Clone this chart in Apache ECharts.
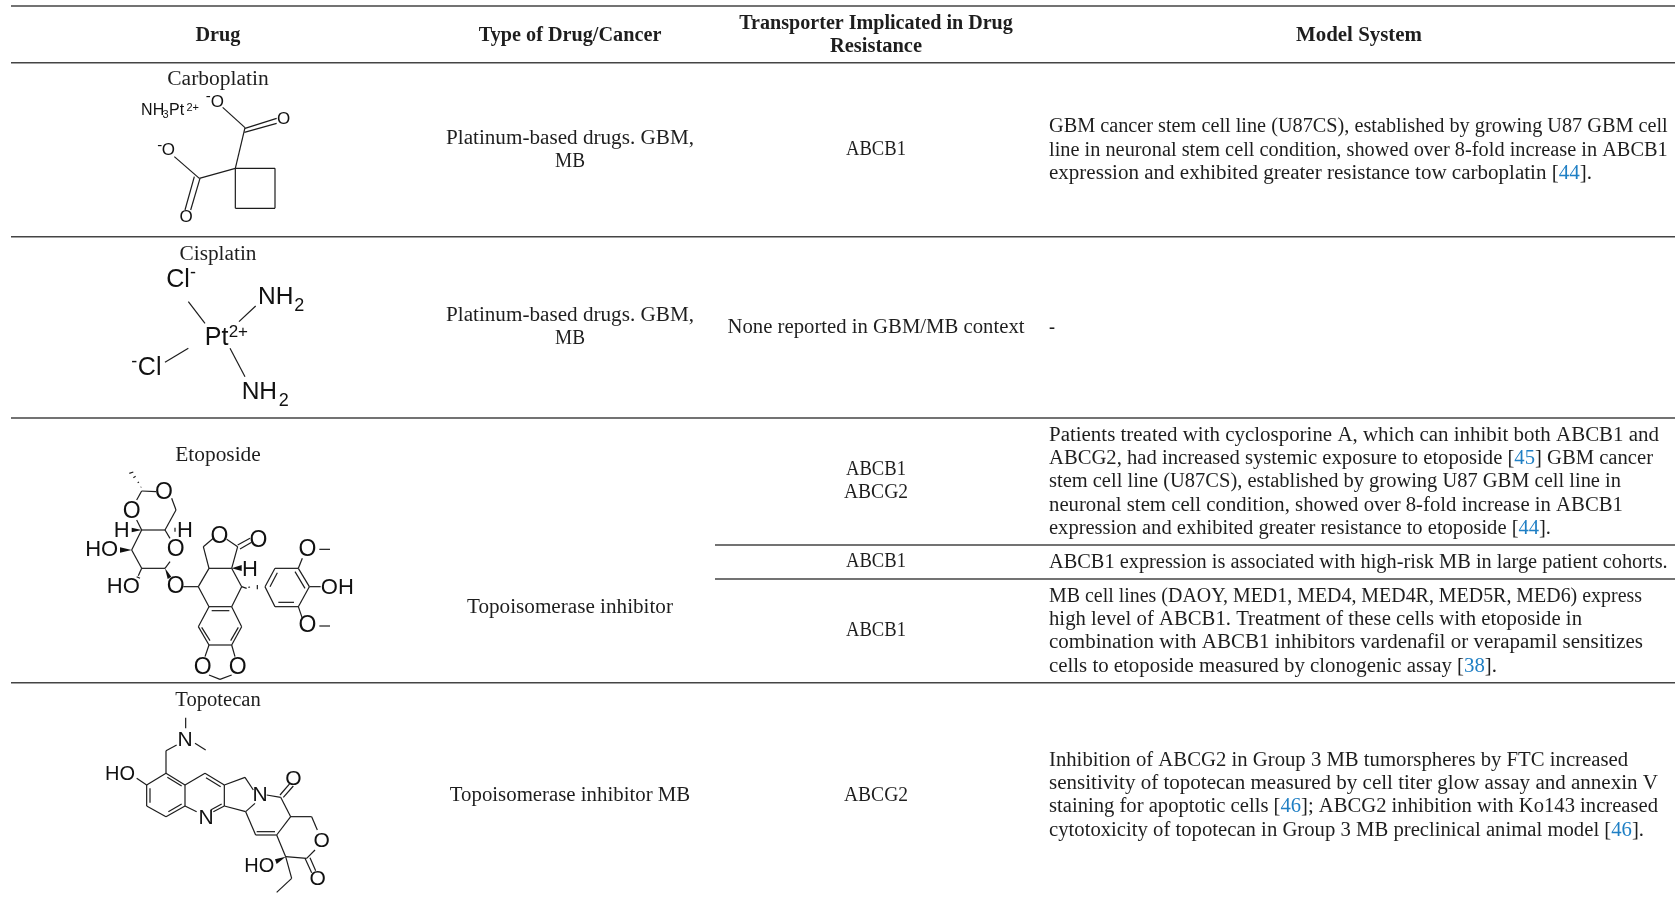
<!DOCTYPE html>
<html><head><meta charset="utf-8">
<style>html,body{margin:0;padding:0;background:#fff}#c{width:1675px;height:902px}</style>
<script src="https://cdn.jsdelivr.net/npm/echarts@6/dist/echarts.min.js"></script>
</head><body><div id="c"></div>
<script>
// ---- table content ----
const headers = ['Drug','Type of Drug/Cancer','Transporter Implicated in Drug','Resistance','Model System'];
const drugs = ['Carboplatin','Cisplatin','Etoposide','Topotecan'];
const drugTypes = ['Platinum-based drugs. GBM,','MB','Platinum-based drugs. GBM,','MB','Topoisomerase inhibitor','Topoisomerase inhibitor MB'];
const transporters = ['ABCB1','None reported in GBM/MB context','ABCB1','ABCG2','ABCB1','ABCB1','ABCG2'];
const modelLines = [
 'GBM cancer stem cell line (U87CS), established by growing U87 GBM cell',
 'line in neuronal stem cell condition, showed over 8-fold increase in ABCB1',
 'expression and exhibited greater resistance tow carboplatin [{r|44}].',
 '-',
 'Patients treated with cyclosporine A, which can inhibit both ABCB1 and',
 'ABCG2, had increased systemic exposure to etoposide [{r|45}] GBM cancer',
 'stem cell line (U87CS), established by growing U87 GBM cell line in',
 'neuronal stem cell condition, showed over 8-fold increase in ABCB1',
 'expression and exhibited greater resistance to etoposide [{r|44}].',
 'ABCB1 expression is associated with high-risk MB in large patient cohorts.',
 'MB cell lines (DAOY, MED1, MED4, MED4R, MED5R, MED6) express',
 'high level of ABCB1. Treatment of these cells with etoposide in',
 'combination with ABCB1 inhibitors vardenafil or verapamil sensitizes',
 'cells to etoposide measured by clonogenic assay [{r|38}].',
 'Inhibition of ABCG2 in Group 3 MB tumorspheres by FTC increased',
 'sensitivity of topotecan measured by cell titer glow assay and annexin V',
 'staining for apoptotic cells [{r|46}]; ABCG2 inhibition with Ko143 increased',
 'cytotoxicity of topotecan in Group 3 MB preclinical animal model [{r|46}].'
];
// ---- table layout ----
const SERIF='"Liberation Serif",serif', SANS='"Liberation Sans",Arial,sans-serif';
const INK='#1e1e1e', BLUE='#1f7fc4', RULE='#444444';
const colX=[218,570,876,1359], modelX=1049, innerRuleX=715;
const fullRules=[6,62.7,236.7,418,682.7], innerRules=[545,579];
const headerPos=[[0,36],[1,36],[2,24],[2,47],[3,36]];
const headerW=[45,182.7,273.6,92,126];
const drugY=[80.2,254.6,455.6,700.6];
const drugW=[101.5,77,85.5,85.5];
const typeY=[138.7,162.2,315.7,339.2,607.7,795.7];
const typeW=[248,30,248,30,206,240.4];
const transporterY=[150.2,327.7,469.7,493.2,562.2,631.2,795.7];
const transporterW=[60,297,60,64,60,60,64];
const modelY=[127.2,150.5,173.7,327.7,435.7,459.2,482.2,505.7,528.7,562.7,596.7,620.2,643.2,666.7,760.7,783.7,807.2,830.7];
const modelW=[618.7,618.7,543,6,610,604,572,574,502,618.7,593,533,594,448,579,609,609,595];
const FS=20;
const measure=document.createElement('canvas').getContext('2d');
function plain(s){return s.replace(/\{r\|([^}]*)\}/g,'$1');}
function fit(s,w,bold){measure.font=(bold?'bold ':'')+FS+'px "Liberation Serif"';return w/measure.measureText(plain(s)).width;}
const textItems=[];
headerPos.forEach((h,i)=>textItems.push({x:colX[h[0]],y:h[1],text:headers[i],align:'center',bold:true,sx:fit(headers[i],headerW[i],true)}));
drugs.forEach((d,i)=>textItems.push({x:colX[0],y:drugY[i],text:d,align:'center',sx:fit(d,drugW[i])}));
drugTypes.forEach((d,i)=>textItems.push({x:colX[1],y:typeY[i],text:d,align:'center',sx:fit(d,typeW[i])}));
transporters.forEach((d,i)=>textItems.push({x:colX[2],y:transporterY[i],text:d,align:'center',sx:fit(d,transporterW[i])}));
modelLines.forEach((d,i)=>textItems.push({x:modelX,y:modelY[i],text:d,align:'left',sx:fit(d,modelW[i])}));

// ---- molecule drawings (units: 1/3 px, each with its own origin) ----
const carboOrigin=[0,0];
const carboBonds=[[668,322,735,383],[735,383,706,505],[735,385,830,355],[733,397,830,370],[706,505,598,535],[598,535,523,470],[583,530,555,630],[600,535,572,630],[706,505,825,505],[825,505,825,625],[825,625,706,625],[706,625,706,505]];
const carboLabels=[['NH',458,333,16],['3',497,346,11],['Pt',530,333,16],['2+',578,325,11],['-',625,292,15],['O',652,307,17],['O',851,358,17],['-',479,437,15],['O',505,452,17],['O',558,653,17]];
const cisOrigin=[100,240];
const cisBonds=[[265,185,315,250],[467,198,417,245],[265,325,195,367],[390,325,435,410]];
const cisLabels=[['Cl',234,120,25],['-',279,100,18],['NH',527,173,24.5],['2',598,198,18],['Pt',350,293,25],['2+',415,278,17],['-',103,365,18],['Cl',149,383,25],['NH',478,458,24.5],['2',551,483,18]];
const etoOrigin=[70,430];
const etoBonds=[[178,130,190,126],[190,143,197,139],[203,158,207,156],[212,172,214,171],[215,183,258,185],[215,183,200,210],[305,205,318,240],[318,240,285,300],[285,300,215,300],[215,300,200,270],[285,300,300,325],[300,395,285,415],[285,415,215,415],[215,415,185,360],[185,360,215,300],[315,293,315,305],[200,440,210,445],[215,415,205,437],[340,470,385,470],[385,470,417,415],[417,415,485,415],[485,415,515,470],[515,470,485,530],[485,530,417,530],[417,530,385,470],[425,542,478,542],[417,415,400,350],[400,350,430,325],[470,328,503,350],[503,350,485,415],[503,345,540,325],[510,357,545,337],[417,530,385,590],[385,590,417,645],[417,645,485,645],[485,645,515,590],[515,590,485,530],[395,592,420,632],[505,592,482,632],[417,645,405,680],[485,645,495,680],[417,735,450,748],[450,748,485,735],[515,470,530,475],[535,472,540,471],[562,465,562,478],[585,470,615,415],[615,415,685,415],[685,415,718,470],[718,470,685,530],[685,530,615,530],[615,530,585,470],[600,470,622,428],[675,425,705,475],[625,517,672,517],[685,415,697,385],[748,358,780,358],[718,470,752,470],[685,530,697,565],[748,588,780,588]];
const etoWedges=[[[215,300],[185,293],[185,307]],[[185,360],[150,352],[150,368]],[[285,415],[293,447],[304,440]],[[485,415],[515,405],[515,423]]];
const etoLabels=[['O',282,187,23],['O',185,245,23],['H',155,302,22],['H',345,302,22],['O',317,360,23],['HO',95,360,22],['HO',160,472,22],['O',317,470,23],['O',448,320,23],['O',565,332,23],['H',540,420,22],['O',398,712,23],['O',503,712,23],['O',712,360,23],['OH',802,475,22],['O',712,587,23]];
const topoOrigin=[80,680];
const topoBonds=[[317,113,317,145],[345,190,377,210],[290,195,258,212],[258,212,258,280],[258,280,200,315],[200,315,200,378],[200,378,258,410],[258,410,315,378],[315,378,315,315],[315,315,258,280],[210,325,210,368],[265,395,305,372],[262,292,305,318],[170,295,200,315],[315,315,375,280],[375,280,433,315],[433,315,433,378],[433,378,400,395],[350,395,315,378],[378,293,422,320],[425,372,392,390],[433,315,495,292],[495,292,520,330],[433,378,497,395],[497,395,525,370],[560,345,602,352],[602,352,632,410],[632,410,590,465],[590,465,527,465],[527,465,497,395],[530,455,585,455],[600,345,630,310],[610,352,640,318],[632,410,695,410],[695,410,712,450],[705,510,680,535],[680,535,617,530],[617,530,590,465],[675,535,695,578],[690,533,707,572],[617,530,635,595],[635,595,590,637]];
const topoWedges=[[[617,530],[585,538],[590,552]]];
const topoLabels=[['N',315,182,21],['HO',120,283,20],['N',378,415,21],['N',540,347,21],['O',640,298,21],['O',725,485,21],['O',713,598,21],['HO',538,560,20]];

const molecules=[[carboOrigin,carboBonds,[],carboLabels],[cisOrigin,cisBonds,[],cisLabels],[etoOrigin,etoBonds,etoWedges,etoLabels],[topoOrigin,topoBonds,topoWedges,topoLabels]];
const bondData=[],wedgeData=[],labelData=[];
const mx=(o,v)=>o[0]+v/3, my=(o,v)=>o[1]+v/3;
molecules.forEach(([o,b,w,l])=>{
  b.forEach(s=>bondData.push([mx(o,s[0]),my(o,s[1]),mx(o,s[2]),my(o,s[3])]));
  w.forEach(t=>wedgeData.push(t.flatMap(p=>[mx(o,p[0]),my(o,p[1])])));
  l.forEach(t=>labelData.push({x:mx(o,t[1]),y:my(o,t[2]),text:t[0],size:t[3]}));
});
const ruleData=fullRules.map(y=>[11,y,1675,y]).concat(innerRules.map(y=>[innerRuleX,y,1675,y]));

function segRender(width,color){return (p,api)=>{
  const a=api.coord([api.value(0),api.value(1)]),b=api.coord([api.value(2),api.value(3)]);
  return {type:'line',shape:{x1:a[0],y1:a[1],x2:b[0],y2:b[1]},style:{stroke:color,lineWidth:width}};
};}
const chart=echarts.init(document.getElementById('c'),null,{renderer:'canvas'});
chart.setOption({
  animation:false,backgroundColor:'#fff',
  grid:{left:0,right:0,top:0,bottom:0},
  xAxis:{type:'value',min:0,max:1675,show:false},
  yAxis:{type:'value',min:0,max:902,inverse:true,show:false},
  tooltip:{show:false},
  series:[
   {type:'custom',name:'rules',silent:true,clip:false,data:ruleData,renderItem:segRender(1.4,RULE)},
   {type:'custom',name:'bonds',silent:true,clip:false,data:bondData,renderItem:segRender(1.2,'#1c1c1c')},
   {type:'custom',name:'wedges',silent:true,clip:false,data:wedgeData,renderItem:(p,api)=>{
      const pts=[0,2,4].map(i=>api.coord([api.value(i),api.value(i+1)]));
      return {type:'polygon',shape:{points:pts},style:{fill:'#111'}};
   }},
   {type:'custom',name:'cells',silent:true,clip:false,data:textItems.map(t=>[t.x,t.y]),renderItem:(p,api)=>{
      const t=textItems[p.dataIndex],c=api.coord([api.value(0),api.value(1)]);
      const ff=SERIF,fw=t.bold?'bold':'normal';
      return {type:'text',x:c[0],y:c[1],scaleX:t.sx,style:{text:t.text,x:0,y:0,fill:INK,fontFamily:ff,fontSize:FS,fontWeight:fw,align:t.align,verticalAlign:'middle',
        rich:{r:{fill:BLUE,fontFamily:ff,fontSize:FS,fontWeight:fw}}}};
   }},
   {type:'custom',name:'atoms',silent:true,clip:false,data:labelData.map(t=>[t.x,t.y]),renderItem:(p,api)=>{
      const t=labelData[p.dataIndex],c=api.coord([api.value(0),api.value(1)]);
      return {type:'text',x:c[0],y:c[1],style:{text:t.text,fill:'#111',fontFamily:SANS,fontSize:t.size,align:'center',verticalAlign:'middle'}};
   }}
  ]
});
</script></body></html>
